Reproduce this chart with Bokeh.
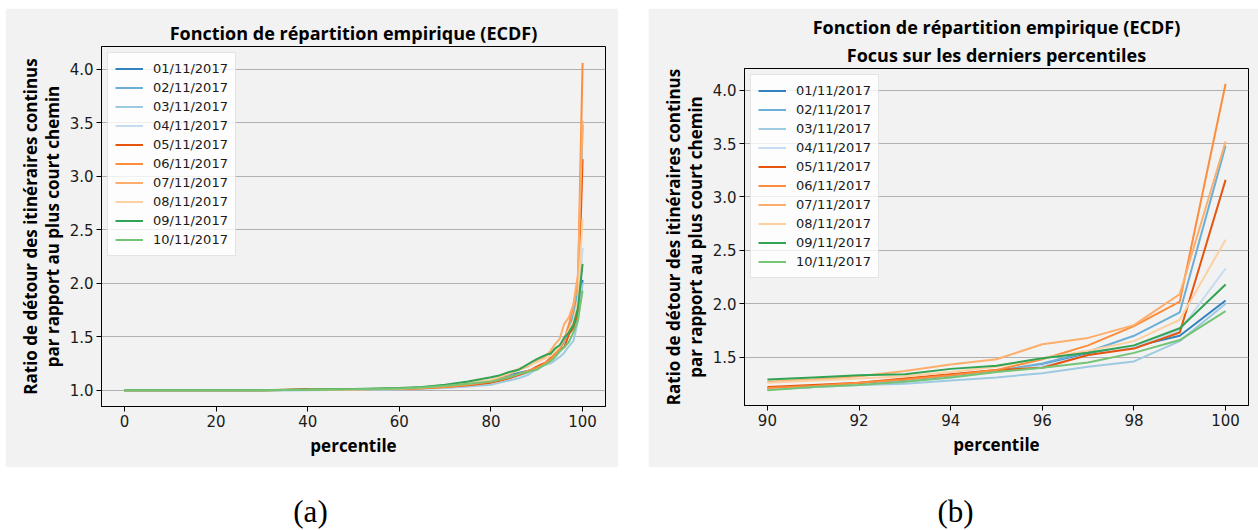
import numpy as np
from bokeh.plotting import figure
from bokeh.models import Legend, LegendItem, Label, Spacer, FixedTicker, PrintfTickFormatter, Title
from bokeh.layouts import row, column
from bokeh.core.properties import value
from bokeh.embed import file_html
from bokeh.resources import INLINE

dates = ["01/11/2017", "02/11/2017", "03/11/2017", "04/11/2017", "05/11/2017",
         "06/11/2017", "07/11/2017", "08/11/2017", "09/11/2017", "10/11/2017"]
colors = ["#3182bd", "#6baed6", "#9ecae1", "#c6dbef", "#e6550d",
          "#fd8d3c", "#fdae6b", "#fdd0a2", "#31a354", "#74c476"]

percentiles = [0, 10, 20, 30, 40, 50, 60, 65, 70, 75, 80, 82, 84, 86, 88,
               90, 91, 92, 93, 94, 95, 96, 97, 98, 99, 100]

d01 = [1.00, 1.00, 1.00, 1.00, 1.003, 1.007, 1.015, 1.02, 1.035, 1.055, 1.09, 1.11, 1.14, 1.16, 1.18,
       1.20, 1.22, 1.25, 1.28, 1.32, 1.37, 1.43, 1.53, 1.60, 1.70, 2.03]
d02 = [1.00, 1.00, 1.00, 1.00, 1.002, 1.006, 1.012, 1.018, 1.03, 1.05, 1.08, 1.10, 1.13, 1.15, 1.17,
       1.20, 1.22, 1.25, 1.28, 1.32, 1.37, 1.44, 1.55, 1.70, 1.92, 3.48]
d03 = [1.00, 1.00, 1.00, 1.00, 1.00, 1.004, 1.008, 1.012, 1.02, 1.035, 1.05, 1.07, 1.09, 1.11, 1.14,
       1.20, 1.22, 1.24, 1.25, 1.28, 1.31, 1.35, 1.41, 1.46, 1.65, 2.00]
d04 = [1.00, 1.00, 1.00, 1.00, 1.002, 1.005, 1.01, 1.015, 1.025, 1.045, 1.07, 1.09, 1.11, 1.13, 1.16,
       1.20, 1.22, 1.24, 1.27, 1.31, 1.36, 1.42, 1.52, 1.60, 1.75, 2.33]
d05 = [1.00, 1.00, 1.00, 1.00, 1.008, 1.01, 1.012, 1.018, 1.03, 1.045, 1.07, 1.09, 1.11, 1.14, 1.17,
       1.22, 1.24, 1.26, 1.30, 1.34, 1.38, 1.40, 1.52, 1.58, 1.73, 3.16]
d06 = [1.00, 1.00, 1.00, 1.00, 1.003, 1.007, 1.012, 1.018, 1.03, 1.05, 1.08, 1.10, 1.12, 1.15, 1.18,
       1.21, 1.23, 1.26, 1.29, 1.33, 1.38, 1.48, 1.61, 1.79, 2.02, 4.06]
d07 = [1.00, 1.00, 1.00, 1.00, 1.003, 1.008, 1.015, 1.025, 1.04, 1.06, 1.09, 1.12, 1.15, 1.19, 1.22,
       1.27, 1.29, 1.32, 1.37, 1.43, 1.48, 1.62, 1.68, 1.80, 2.09, 3.52]
d08 = [1.00, 1.00, 1.00, 1.00, 1.004, 1.009, 1.016, 1.028, 1.045, 1.07, 1.10, 1.13, 1.16, 1.20, 1.23,
       1.26, 1.28, 1.30, 1.32, 1.36, 1.41, 1.49, 1.56, 1.65, 1.85, 2.60]
d09 = [1.00, 1.00, 1.00, 1.00, 1.005, 1.01, 1.02, 1.03, 1.05, 1.08, 1.12, 1.14, 1.17, 1.19, 1.24,
       1.29, 1.31, 1.33, 1.34, 1.39, 1.42, 1.49, 1.54, 1.61, 1.77, 2.18]
d10 = [1.00, 1.00, 1.00, 1.00, 1.003, 1.008, 1.015, 1.025, 1.04, 1.06, 1.08, 1.10, 1.12, 1.15, 1.17,
       1.19, 1.22, 1.24, 1.27, 1.31, 1.36, 1.40, 1.45, 1.54, 1.66, 1.93]
series = [d01, d02, d03, d04, d05, d06, d07, d08, d09, d10]

x_ticks_a = [0, 20, 40, 60, 80, 100]
x_ticks_b = [90, 92, 94, 96, 98, 100]
y_ticks = [1.0, 1.5, 2.0, 2.5, 3.0, 3.5, 4.0]

title_a = ["Fonction de répartition empirique (ECDF)"]
title_b = ["Fonction de répartition empirique (ECDF)", "Focus sur les derniers percentiles"]
ylabel = "Ratio de détour des itinéraires continus\npar rapport au plus court chemin"
xlabel = "percentile"
captions = ["(a)", "(b)"]

BG = "#f2f2f2"


def make_fig(width, height, xr, yr, borders, title_lines, xticks, pmin):
    left, right, top, bottom = borders
    p = figure(width=width, height=height, x_range=xr, y_range=yr,
               output_backend="svg", toolbar_location=None,
               min_border_left=left, min_border_right=right,
               min_border_top=top, min_border_bottom=bottom)
    p.frame_align = False
    p.background_fill_color = BG
    p.border_fill_color = BG
    p.outline_line_color = "black"
    p.outline_line_width = 1
    p.outline_line_alpha = 1

    p.title.visible = False
    # lines are stacked outward from the frame: add the last line first
    for i, line in enumerate(reversed(title_lines)):
        t = Title(text=line, align="center", text_font="Open Sans",
                  text_font_size="18px", text_font_style="bold", text_color="black",
                  text_line_height=0.85,
                  standoff=(4 if i == 0 else 0), offset=0)
        p.add_layout(t, "above")

    p.xgrid.visible = False
    p.ygrid.grid_line_color = "#b0b0b0"
    p.ygrid.grid_line_width = 1.2

    p.xaxis.ticker = FixedTicker(ticks=xticks)
    p.yaxis.ticker = FixedTicker(ticks=y_ticks)
    p.xaxis.formatter = PrintfTickFormatter(format="%d")
    p.yaxis.formatter = PrintfTickFormatter(format="%.1f")
    for ax in (p.xaxis, p.yaxis):
        ax.axis_line_color = "black"
        ax.axis_line_width = 1
        ax.major_tick_line_color = "black"
        ax.major_tick_out = 5
        ax.major_tick_in = 0
        ax.minor_tick_line_color = None
        ax.major_label_text_font = "DejaVu Sans"
        ax.major_label_text_font_size = "15px"
        ax.major_label_text_color = "#1a1a1a"
        ax.major_label_standoff = 3
        ax.axis_label_text_font = "Open Sans"
        ax.axis_label_text_font_size = "17px"
        ax.axis_label_text_font_style = "bold"
        ax.axis_label_text_color = "black"
        ax.axis_label_text_line_height = 0.95
    p.xaxis.axis_label = xlabel
    p.xaxis.axis_label_standoff = 4
    p.yaxis.axis_label = ylabel
    p.yaxis.axis_label_standoff = 3

    pct = np.array(percentiles)
    mask = pct >= pmin
    items = []
    for d, c, lab in zip(series, colors, dates):
        r = p.line(pct[mask], np.array(d)[mask], line_color=c, line_width=2)
        items.append(LegendItem(label=value(lab), renderers=[r]))
    leg = Legend(items=items, location="top_left")
    leg.label_text_font = "DejaVu Sans"
    leg.label_text_font_size = "13px"
    leg.label_text_color = "#1a1a1a"
    leg.label_height = 17
    leg.glyph_height = 17
    leg.glyph_width = 28
    leg.spacing = 2
    leg.padding = 7
    leg.margin = 6
    leg.label_standoff = 10
    leg.border_line_color = "#cccccc"
    leg.border_line_width = 1
    leg.background_fill_color = "white"
    leg.background_fill_alpha = 0.8
    p.add_layout(leg)
    return p


p1 = make_fig(613, 459, (-5, 105), (0.847, 4.213), (96, 13, 38, 61), title_a, x_ticks_a, 0)
p2 = make_fig(610, 459, (89.5, 100.5), (1.047, 4.203), (96, 10, 60, 62), title_b, x_ticks_b, 90)

cap = figure(width=1258, height=63, x_range=(0, 1258), y_range=(0, 63),
             output_backend="svg", toolbar_location=None, min_border=0,
             x_axis_type=None, y_axis_type=None)
cap.outline_line_color = None
cap.grid.visible = False
for txt, xpos in zip(captions, (310, 955)):
    cap.add_layout(Label(x=xpos, y=19, x_units="screen", y_units="screen", text=txt,
                         text_align="center", text_baseline="alphabetic",
                         text_font="Liberation Serif", text_font_size="31px",
                         text_color="black"))

layout = column(Spacer(width=1258, height=8),
                row(Spacer(width=5, height=459), p1, Spacer(width=30, height=459), p2),
                cap)

open("out.html", "w").write(file_html(layout, INLINE))
